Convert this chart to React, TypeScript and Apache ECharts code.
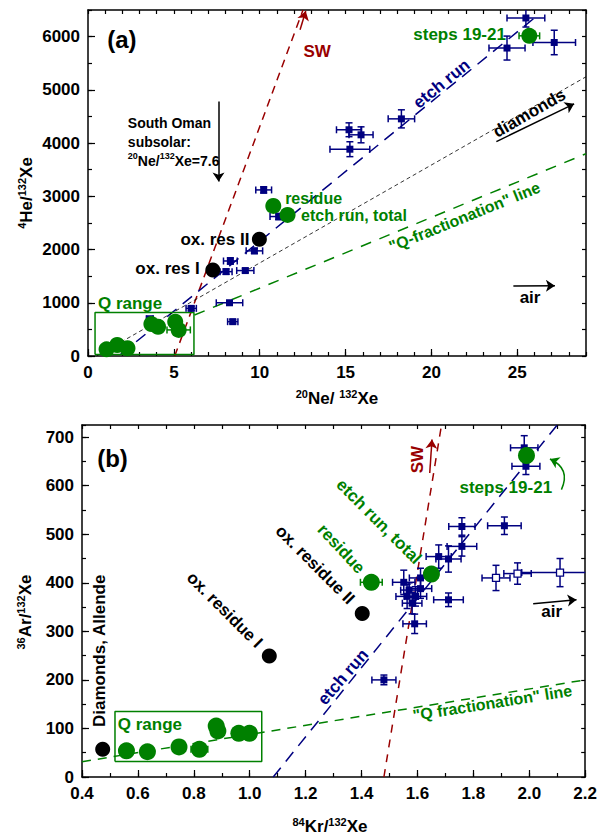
import React, { useEffect, useRef } from "react";
import * as echarts from "echarts";

const FONT = "'Liberation Sans', Arial, Helvetica, sans-serif";
const NAVY = "#000080";
const RED = "#990000";
const GREEN = "#008000";
const BLACK = "#000000";

// ---------------- Panel (a): 4He/132Xe vs 20Ne/132Xe ----------------
const aXRange = [0, 29];
const aYRange = [0, 6500];
// etch-run steps: [x, y, xErr, yErr]
const aEtchSteps = [
  [25.5, 6350, 1.1, 170],
  [24.4, 5785, 1.05, 225],
  [27.15, 5890, 1.24, 230],
  [15.2, 4250, 0.73, 130],
  [15.9, 4155, 0.7, 150],
  [15.25, 3885, 1.16, 140],
  [18.25, 4455, 0.77, 170],
  [10.23, 3120, 0.46, 60],
  [11.1, 2620, 0.5, 60],
  [9.69, 1975, 0.48, 50],
  [8.29, 1785, 0.4, 60],
  [8.04, 1585, 0.35, 50],
  [9.16, 1605, 0.5, 40],
  [6.01, 895, 0.3, 40],
  [8.24, 1000, 0.77, 40],
  [8.43, 645, 0.3, 40],
  [3.6, 700, 0.2, 30],
];
// green points: [x, y, xErr, yErr]
const aGreenPts = [
  [25.7, 6015, 0.6, 0],
  [10.79, 2820, 0, 0],
  [11.62, 2650, 0, 0],
  [1.08, 125, 0, 0],
  [1.7, 207, 0, 0],
  [2.3, 145, 0, 0],
  [3.69, 600, 0, 0],
  [4.08, 550, 0, 0],
  [5.08, 645, 0, 0],
  [5.28, 490, 0.68, 0],
];
const aBlackPts = [
  [9.98, 2195],
  [7.27, 1615],
];
const aLineSW = [[5.05, 0], [12.52, 6500]];
const aLineEtch = [[1.9, 30], [26.3, 6430]];
const aLineDiamonds = [[0.5, 0], [29, 5245]];
const aLineQfrac = [[6.2, 770], [29, 3800]];
const aQBox = [[0.41, 30], [6.17, 30], [6.17, 815], [0.41, 815], [0.41, 30]];
// arrows: [x1, y1, x2, y2]
const aArrowsBlack = [
  [7.6, 4780, 7.6, 3276],
  [23.78, 4028, 28.31, 4737],
  [24.77, 1316, 27.19, 1320],
];
const aArrowsRed = [[12.35, 6130, 12.68, 6480]];
// notes: [x, y, text, colour, rotate, align, fontSize]
const aNotes = [
  [1.97, 5940, "(a)", BLACK, 0, "center", 24],
  [2.32, 4028, "{m|South Oman}\n{m|subsolar:}\n{s|20}{m|Ne/}{s|132}{m|Xe=7.6}", BLACK, 0, "left", 14],
  [13.34, 5715, "SW", RED, 0, "center", 17],
  [21.64, 6034, "steps 19-21", GREEN, 0, "center", 17],
  [11.48, 2950, "residue", GREEN, 0, "left", 16],
  [12.41, 2640, "etch run, total", GREEN, 0, "left", 16],
  [9.4, 2180, "ox. res II", BLACK, 0, "right", 17],
  [6.5, 1635, "ox. res I", BLACK, 0, "right", 17],
  [0.58, 977, "Q range", GREEN, 0, "left", 17],
  [20.59, 5113, "etch run", NAVY, 39, "center", 17],
  [25.7, 4560, "diamonds", BLACK, 30, "center", 17],
  [21.93, 2613, "\"Q-fractionation\" line", GREEN, 22, "center", 16],
  [25.74, 1103, "air", BLACK, 0, "center", 17],
];

// ---------------- Panel (b): 36Ar/132Xe vs 84Kr/132Xe ----------------
const bXRange = [0.4, 2.2];
const bYRange = [0, 725];
const bEtchSteps = [
  [1.982, 678, 0.049, 25],
  [1.988, 640, 0.05, 17],
  [1.759, 516, 0.047, 18],
  [1.911, 517.5, 0.06, 18],
  [1.759, 475, 0.053, 20],
  [1.676, 454, 0.045, 24],
  [1.711, 449, 0.045, 27],
  [1.711, 365, 0.053, 14],
  [1.59, 315.5, 0.042, 20],
  [1.48, 200, 0.043, 10],
  [1.551, 401, 0.04, 25],
  [1.611, 410, 0.04, 20],
  [1.563, 372, 0.04, 25],
  [1.593, 372, 0.04, 20],
  [1.581, 358, 0.035, 22],
  [1.611, 388, 0.04, 20],
  [1.57, 385, 0.03, 15],
];
const bEtchOpen = [
  [1.881, 410, 0.05, 26],
  [1.958, 419, 0.049, 22],
  [2.11, 421, 0.137, 29],
];
const bGreenPts = [
  [1.99, 662, 0, 0],
  [1.435, 401, 0.039, 0],
  [1.65, 418, 0, 0],
  [0.559, 54, 0, 0],
  [0.634, 52, 0, 0],
  [0.747, 62, 0, 0],
  [0.82, 57, 0.03, 0],
  [0.88, 105, 0, 0],
  [0.886, 95, 0, 0],
  [0.961, 90, 0, 0],
  [0.999, 90, 0, 0],
];
const bBlackPts = [
  [0.474, 57],
  [1.07, 249],
  [1.4025, 337],
];
const bLineSW = [[1.48, 0], [1.686, 725]];
const bLineEtch = [[1.084, 0], [2.1, 725]];
const bLineQfrac = [[0.4, 31.5], [2.2, 200]];
const bQBox = [[0.518, 32], [1.043, 32], [1.043, 135], [0.518, 135], [0.518, 32]];
const bArrowsBlack = [[2.014, 357, 2.169, 365]];
const bArrowsRed = [[1.644, 626, 1.652, 695]];
const bArrowsGreenCurved = [[2.115, 592, 2.074, 655]];
const bNotes = [
  [0.509, 657, "(b)", BLACK, 0, "center", 24],
  [0.464, 260, "Diamonds, Allende", BLACK, 90, "center", 17],
  [0.91, 344, "ox. residue I", BLACK, -45, "center", 17],
  [1.234, 437, "ox. residue II", BLACK, -45, "center", 17],
  [1.327, 470, "residue", GREEN, -47, "center", 17],
  [1.462, 526, "etch run, total", GREEN, -45, "center", 17],
  [1.916, 596, "steps 19-21", GREEN, 0, "center", 17],
  [1.599, 653.6, "SW", RED, 90, "center", 17],
  [0.528, 109, "Q range", GREEN, 0, "left", 17],
  [1.334, 206, "etch run", NAVY, 49, "center", 17],
  [1.868, 152.6, "\"Q fractionation\" line", GREEN, 9, "center", 16],
  [2.08, 341, "air", BLACK, 0, "center", 17],
];

// ---------------- helpers ----------------
function axis(gridIndex, position, range, interval, tickLen, showLabel, showLine, fmt?) {
  return {
    type: "value",
    gridIndex,
    position,
    min: range[0],
    max: range[1],
    interval,
    axisLine: { show: showLine, onZero: false, lineStyle: { color: BLACK, width: 1.5 } },
    axisTick: { show: true, inside: true, length: tickLen, lineStyle: { color: BLACK, width: 1.2 } },
    axisLabel: {
      show: showLabel,
      color: BLACK,
      fontSize: 17,
      fontWeight: "bold",
      fontFamily: FONT,
      margin: 8,
      showMaxLabel: position === "bottom" && gridIndex === 1,
      formatter: fmt || ((v) => String(v)),
    },
    splitLine: { show: false },
  };
}

function lineSeries(pts, xi, yi, color, width, dash) {
  return {
    type: "line",
    xAxisIndex: xi,
    yAxisIndex: yi,
    data: pts,
    symbol: "none",
    silent: true,
    z: 2,
    lineStyle: { color, width, type: dash, opacity: 1 },
  };
}

function errSeries(data, xi, yi, color, xr, yr) {
  return {
    type: "custom",
    xAxisIndex: xi,
    yAxisIndex: yi,
    data,
    silent: true,
    z: 3,
    encode: { x: 0, y: 1 },
    renderItem: (params, api) => {
      const x = api.value(0);
      const y = api.value(1);
      const xe = api.value(2);
      const ye = api.value(3);
      const cap = 3.5;
      const style = { stroke: color, lineWidth: 1.5 };
      const ch: any[] = [];
      if (xe > 0) {
        const x1 = Math.max(x - xe, xr[0]);
        const x2 = Math.min(x + xe, xr[1]);
        const p1 = api.coord([x1, y]);
        const p2 = api.coord([x2, y]);
        ch.push({ type: "line", shape: { x1: p1[0], y1: p1[1], x2: p2[0], y2: p2[1] }, style });
        if (x1 === x - xe) ch.push({ type: "line", shape: { x1: p1[0], y1: p1[1] - cap, x2: p1[0], y2: p1[1] + cap }, style });
        if (x2 === x + xe) ch.push({ type: "line", shape: { x1: p2[0], y1: p2[1] - cap, x2: p2[0], y2: p2[1] + cap }, style });
      }
      if (ye > 0) {
        const y1 = Math.max(y - ye, yr[0]);
        const y2 = Math.min(y + ye, yr[1]);
        const p1 = api.coord([x, y1]);
        const p2 = api.coord([x, y2]);
        ch.push({ type: "line", shape: { x1: p1[0], y1: p1[1], x2: p2[0], y2: p2[1] }, style });
        if (y1 === y - ye) ch.push({ type: "line", shape: { x1: p1[0] - cap, y1: p1[1], x2: p1[0] + cap, y2: p1[1] }, style });
        if (y2 === y + ye) ch.push({ type: "line", shape: { x1: p2[0] - cap, y1: p2[1], x2: p2[0] + cap, y2: p2[1] }, style });
      }
      return { type: "group", children: ch };
    },
  };
}

function scatterSeries(pts, xi, yi, symbol, size, color, z, border?) {
  return {
    type: "scatter",
    xAxisIndex: xi,
    yAxisIndex: yi,
    data: pts.map((p) => [p[0], p[1]]),
    symbol,
    symbolSize: size,
    silent: true,
    z,
    itemStyle: border
      ? { color: "#ffffff", borderColor: color, borderWidth: 1.3, opacity: 1 }
      : { color, opacity: 1 },
  };
}

function arrowSeries(arrs, xi, yi, color, width, curveness) {
  return {
    type: "lines",
    coordinateSystem: "cartesian2d",
    xAxisIndex: xi,
    yAxisIndex: yi,
    polyline: false,
    symbol: ["none", "arrow"],
    symbolSize: 9,
    silent: true,
    z: 6,
    lineStyle: { color, width, curveness, opacity: 1 },
    data: arrs.map((a) => ({ coords: [[a[0], a[1]], [a[2], a[3]]] })),
  };
}

function noteSeries(notes, xi, yi) {
  return {
    type: "scatter",
    xAxisIndex: xi,
    yAxisIndex: yi,
    symbolSize: 1,
    silent: true,
    z: 10,
    itemStyle: { color: "rgba(0,0,0,0)", opacity: 1 },
    data: notes.map((n) => ({
      value: [n[0], n[1]],
      label: {
        show: true,
        position: "inside",
        formatter: n[2],
        color: n[3],
        opacity: 1,
        rotate: n[4],
        align: n[5],
        verticalAlign: "middle",
        fontSize: n[6],
        fontWeight: "bold",
        fontFamily: FONT,
        rich: {
          m: { fontSize: n[6], fontWeight: "bold", fontFamily: FONT, lineHeight: 19, color: n[3] },
          s: { fontSize: 9, fontWeight: "bold", fontFamily: FONT, verticalAlign: "top", lineHeight: 10, color: n[3] },
        },
      },
    })),
  };
}

function titleText(x, y, rotation, sup1, main1, sup2, main2) {
  const tok = { fontSize: 17, fontWeight: "bold", fontFamily: FONT, fill: BLACK, lineHeight: 20 };
  const sup = { fontSize: 11, fontWeight: "bold", fontFamily: FONT, fill: BLACK, verticalAlign: "top", lineHeight: 12 };
  return {
    type: "text",
    x,
    y,
    rotation,
    silent: true,
    style: {
      text: `{s|${sup1}}{n|${main1}}{s|${sup2}}{n|${main2}}`,
      rich: { n: tok, s: sup },
      fill: BLACK,
      align: "center",
      verticalAlign: "middle",
      textAlign: "center",
      textVerticalAlign: "middle",
    },
  };
}

export default function App() {
  const ref = useRef<HTMLDivElement>(null);
  useEffect(() => {
    document.body.style.margin = "0";
    const chart = echarts.init(ref.current!, null, { renderer: "svg", width: 600, height: 835 });
    const option = {
      animation: false,
      grid: [
        { left: 88, top: 10, width: 498, height: 346, containLabel: false },
        { left: 82, top: 425, width: 505, height: 352, containLabel: false },
      ],
      xAxis: [
        axis(0, "bottom", aXRange, 5, 7, true, true),
        axis(0, "bottom", aXRange, 1, 4, false, false),
        axis(0, "top", aXRange, 1, 4, false, true),
        axis(1, "bottom", bXRange, 0.2, 7, true, true, (v) => v.toFixed(1)),
        axis(1, "bottom", bXRange, 0.1, 4, false, false),
        axis(1, "top", bXRange, 0.1, 4, false, true),
      ],
      yAxis: [
        axis(0, "left", aYRange, 1000, 7, true, true),
        axis(0, "left", aYRange, 500, 4, false, false),
        axis(0, "right", aYRange, 500, 4, false, true),
        axis(1, "left", bYRange, 100, 7, true, true),
        axis(1, "left", bYRange, 50, 4, false, false),
        axis(1, "right", bYRange, 50, 4, false, true),
      ],
      graphic: [
        titleText(26, 193, Math.PI / 2, "4", "He/", "132", "Xe"),
        titleText(337, 398, 0, "20", "Ne/ ", "132", "Xe"),
        titleText(25, 612, Math.PI / 2, "36", "Ar/", "132", "Xe"),
        titleText(330, 826, 0, "84", "Kr/", "132", "Xe"),
      ],
      series: [
        // panel (a)
        lineSeries(aLineSW, 0, 0, RED, 1.5, [8, 6]),
        lineSeries(aLineEtch, 0, 0, NAVY, 1.5, [12, 8]),
        lineSeries(aLineDiamonds, 0, 0, BLACK, 0.8, [4, 3]),
        lineSeries(aLineQfrac, 0, 0, GREEN, 1.5, [11, 9]),
        lineSeries(aQBox, 0, 0, GREEN, 1.5, "solid"),
        errSeries(aEtchSteps, 0, 0, NAVY, aXRange, aYRange),
        scatterSeries(aEtchSteps, 0, 0, "rect", 7, NAVY, 4),
        errSeries(aGreenPts, 0, 0, GREEN, aXRange, aYRange),
        scatterSeries(aGreenPts, 0, 0, "circle", 16, GREEN, 5),
        scatterSeries(aBlackPts, 0, 0, "circle", 15, BLACK, 5),
        arrowSeries(aArrowsBlack, 0, 0, BLACK, 1.5, 0),
        arrowSeries(aArrowsRed, 0, 0, RED, 1.5, 0),
        noteSeries(aNotes, 0, 0),
        // panel (b)
        lineSeries(bLineSW, 3, 3, RED, 1.5, [8, 7]),
        lineSeries(bLineEtch, 3, 3, NAVY, 1.5, [12, 8]),
        lineSeries(bLineQfrac, 3, 3, GREEN, 1.5, [9, 7]),
        lineSeries(bQBox, 3, 3, GREEN, 1.5, "solid"),
        errSeries(bEtchSteps, 3, 3, NAVY, bXRange, bYRange),
        errSeries(bEtchOpen, 3, 3, NAVY, bXRange, bYRange),
        scatterSeries(bEtchSteps, 3, 3, "rect", 7, NAVY, 4),
        scatterSeries(bEtchOpen, 3, 3, "rect", 7, NAVY, 4, true),
        errSeries(bGreenPts, 3, 3, GREEN, bXRange, bYRange),
        scatterSeries(bGreenPts, 3, 3, "circle", 17, GREEN, 5),
        scatterSeries(bBlackPts, 3, 3, "circle", 15, BLACK, 5),
        arrowSeries(bArrowsBlack, 3, 3, BLACK, 1.5, 0),
        arrowSeries(bArrowsRed, 3, 3, RED, 1.5, 0),
        arrowSeries(bArrowsGreenCurved, 3, 3, GREEN, 1.5, -0.5),
        noteSeries(bNotes, 3, 3),
      ],
    };
    chart.setOption(option as any);
    return () => chart.dispose();
  }, []);
  return <div ref={ref} style={{ width: 600, height: 835 }} />;
}
